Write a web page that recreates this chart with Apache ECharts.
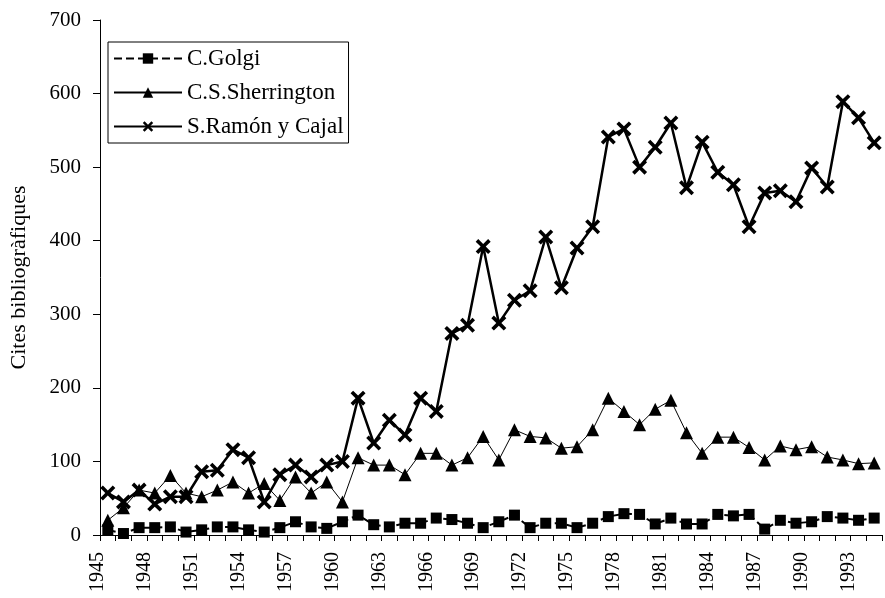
<!DOCTYPE html>
<html>
<head>
<meta charset="utf-8">
<script src="https://cdn.jsdelivr.net/npm/echarts@6/dist/echarts.min.js"></script>
<style>
  html, body { margin: 0; padding: 0; background: #fff; }
  #chart { width: 885px; height: 598px; }
</style>
</head>
<body>
<div id="chart"></div>
<script>
var years = [];
for (var y = 1945; y <= 1994; y++) years.push(String(y));

var golgi = [7, 2, 10, 10, 11, 4, 7, 11, 11, 7, 4, 10, 18, 11, 9, 18, 27, 14, 11, 16,
  16, 23, 21, 16, 10, 18, 27, 10, 16, 16, 10, 16, 25, 29, 28, 15, 23, 15, 15, 28,
  26, 28, 8, 20, 16, 18, 25, 23, 20, 23];

var sherrington = [20, 37, 61, 57, 81, 57, 52, 61, 72, 57, 70, 47, 79, 57, 72, 45, 105, 95, 95, 82,
  111, 111, 95, 105, 134, 102, 143, 134, 132, 118, 120, 143, 186, 168, 150, 171, 183, 139, 111, 133,
  133, 119, 102, 121, 116, 120, 106, 102, 97, 98];

var cajal = [57, 45, 61, 42, 52, 52, 86, 88, 116, 105, 45, 82, 95, 79, 95, 100, 186, 125, 156, 136,
  186, 168, 274, 285, 392, 288, 319, 332, 405, 336, 390, 419, 541, 552, 500, 527, 560, 472, 534, 493,
  476, 419, 465, 468, 453, 499, 473, 589, 567, 533];

var serif = '"Liberation Serif", "DejaVu Serif", serif';
// X-shaped marker for Cajal
var crossPath = 'path://M0,1.7 L1.7,0 L5,3.3 L8.3,0 L10,1.7 L6.7,5 L10,8.3 L8.3,10 L5,6.7 L1.7,10 L0,8.3 L3.3,5 Z';

var chart = echarts.init(document.getElementById('chart'));
chart.setOption({
  animation: false,
  backgroundColor: '#fff',
  textStyle: { fontFamily: serif, color: '#000' },
  grid: { left: 98, right: 3, top: 20, bottom: 63 },
  legend: {
    orient: 'vertical',
    left: 108,
    top: 42,
    backgroundColor: '#fff',
    borderColor: '#000',
    borderWidth: 1,
    padding: [5, 5, 5, 5],
    itemWidth: 68,
    itemHeight: 13,
    itemGap: 11,
    textStyle: { fontFamily: serif, fontSize: 23, color: '#000' },
    data: ['C.Golgi', 'C.S.Sherrington', 'S.Ramón y Cajal']
  },
  xAxis: {
    type: 'category',
    data: years,
    boundaryGap: true,
    axisLine: { lineStyle: { color: '#000', width: 1 } },
    axisTick: { show: true, interval: 0, length: 6, lineStyle: { color: '#000' } },
    axisLabel: {
      interval: 2,
      rotate: 90,
      margin: 17,
      verticalAlign: 'bottom',
      fontFamily: serif,
      fontSize: 20,
      color: '#000'
    },
    splitLine: { show: false }
  },
  yAxis: {
    type: 'value',
    min: 0,
    max: 700,
    interval: 100,
    name: 'Cites bibliogràfiques',
    nameLocation: 'middle',
    nameGap: 70,
    nameTextStyle: { fontFamily: serif, fontSize: 22, color: '#000' },
    axisLine: { show: true, lineStyle: { color: '#000', width: 1 } },
    axisTick: { show: true, length: 7, lineStyle: { color: '#000' } },
    axisLabel: { fontFamily: serif, fontSize: 21, color: '#000', margin: 19 },
    splitLine: { show: false }
  },
  series: [
    {
      name: 'C.Golgi',
      type: 'line',
      data: golgi,
      symbol: 'rect',
      symbolSize: 11,
      showAllSymbol: true,
      lineStyle: { color: '#000', width: 2, type: [8, 4] },
      itemStyle: { color: '#000' }
    },
    {
      name: 'C.S.Sherrington',
      type: 'line',
      data: sherrington,
      symbol: 'triangle',
      symbolSize: 13,
      showAllSymbol: true,
      lineStyle: { color: '#000', width: 1 },
      itemStyle: { color: '#000' }
    },
    {
      name: 'S.Ramón y Cajal',
      type: 'line',
      data: cajal,
      symbol: crossPath,
      symbolSize: 15,
      showAllSymbol: true,
      lineStyle: { color: '#000', width: 2.5 },
      itemStyle: { color: '#000' }
    }
  ]
});
</script>
</body>
</html>
